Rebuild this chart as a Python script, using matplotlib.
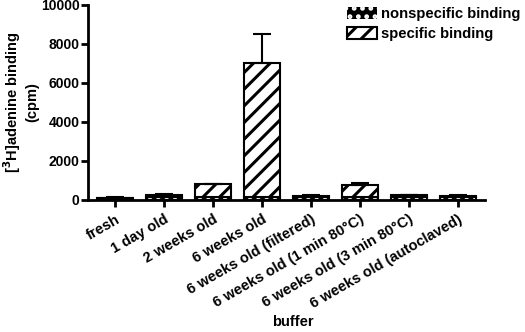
import matplotlib
matplotlib.use("Agg")
import matplotlib.pyplot as plt
from matplotlib.patches import Patch
import numpy as np

plt.rcParams['font.family'] = ['Liberation Sans', 'DejaVu Sans']
plt.rcParams['font.weight'] = 'bold'
plt.rcParams['hatch.linewidth'] = 2.2

categories = ["fresh", "1 day old", "2 weeks old", "6 weeks old",
              "6 weeks old (filtered)", "6 weeks old (1 min 80°C)",
              "6 weeks old (3 min 80°C)", "6 weeks old (autoclaved)"]
nonspecific = [100, 150, 140, 140, 130, 130, 140, 130]
specific = [20, 110, 660, 6880, 70, 620, 100, 90]
total_err = [20, 40, 30, 1500, 30, 100, 30, 30]

fig = plt.figure(figsize=(5.25, 3.32), dpi=100)
ax = fig.add_axes([0.1676, 0.398, 0.756, 0.587])

x = np.arange(len(categories))
w = 0.72
ax.bar(x, nonspecific, w, color='black', edgecolor='white', hatch='..', linewidth=0)
ax.bar(x, nonspecific, w, facecolor='none', edgecolor='black', linewidth=1.5)
ax.bar(x, specific, w, bottom=nonspecific, color='white', edgecolor='black',
       hatch='//', linewidth=1.5)
tops = np.array(nonspecific) + np.array(specific)
ax.errorbar(x, tops, yerr=[np.zeros(len(x)), total_err], fmt='none',
            ecolor='black', elinewidth=1.5, capsize=6.5, capthick=1.5)

ax.set_xlim(-0.55, 7.55)
ax.set_ylim(0, 10000)
ax.set_yticks([0, 2000, 4000, 6000, 8000, 10000])
ax.set_xticks(x)
ax.set_xticklabels(categories, rotation=30, ha='right', rotation_mode='anchor',
                   fontsize=10.5, fontweight='bold')
for lab in ax.get_yticklabels():
    lab.set_fontsize(10)
    lab.set_fontweight('bold')
for s in ['top', 'right']:
    ax.spines[s].set_visible(False)
for s in ['left', 'bottom']:
    ax.spines[s].set_linewidth(2)
ax.tick_params(axis='both', width=2, length=5, direction='out')
ax.tick_params(axis='y', pad=1)
ax.tick_params(axis='x', pad=4)

ax.set_ylabel("[$^3$H]adenine binding\n(cpm)", fontsize=10.5, fontweight='bold', labelpad=1)
fig.text(0.557, 0.03, "buffer", ha='center', va='center', fontsize=10.5, fontweight='bold')

handles = [Patch(facecolor='black', edgecolor='white', hatch='..', linewidth=0),
           Patch(facecolor='white', edgecolor='black', hatch='//', linewidth=1.5)]
leg = fig.legend(handles, ["nonspecific binding", "specific binding"],
                 loc='upper left', bbox_to_anchor=(0.645, 1.005), frameon=False,
                 fontsize=10.6, handlelength=2.0, handleheight=0.9,
                 handletextpad=0.3, labelspacing=0.35, borderaxespad=0.2)
for t in leg.get_texts():
    t.set_fontweight('bold')

fig.savefig("out.png", dpi=100)
